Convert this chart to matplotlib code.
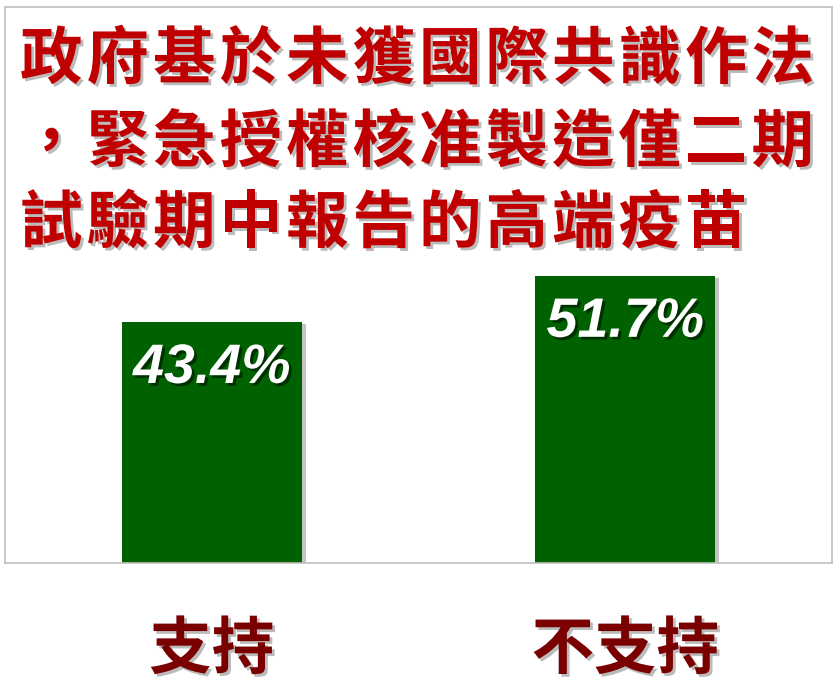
import matplotlib
matplotlib.use("Agg")
import matplotlib.pyplot as plt
import matplotlib.patheffects as pe

categories = ["支持", "不支持"]
values = [43.4, 51.7]
value_labels = ["43.4%", "51.7%"]
title_lines = ["政府基於未獲國際共識作法", "，緊急授權核准製造僅二期", "試驗期中報告的高端疫苗"]

plt.rcParams['font.family'] = ['Noto Sans CJK TC', 'DejaVu Sans']

fig = plt.figure(figsize=(8.4, 6.85), dpi=100)
ax = fig.add_axes([5/840, 1-563/685, 827/840, 556/685])
ax.set_xlim(-0.5, 1.5)
ax.set_ylim(0, 100)
x = list(range(len(categories)))
bars = ax.bar(x, values, width=0.435, color="#006100", zorder=2)
for b in bars:
    b.set_path_effects([pe.SimplePatchShadow(offset=(3, -2), shadow_rgbFace="#888888", alpha=0.5), pe.Normal()])
ax.set_xticks([])
ax.set_yticks([])
for s in ax.spines.values():
    s.set_color("#BFBFBF")
    s.set_linewidth(1.2)

for xi, v, lab in zip(x, values, value_labels):
    ax.text(xi, v - 8.5, lab, ha="center", va="center", color="white",
            fontsize=40, fontweight="bold", style="italic",
            family=["Liberation Sans Narrow", "Liberation Sans", "DejaVu Sans"],
            path_effects=[pe.withSimplePatchShadow(offset=(2, -2), shadow_rgbFace="black", alpha=0.5)],
            zorder=3)

shadow = [pe.withSimplePatchShadow(offset=(2, -2), shadow_rgbFace="#555555", alpha=0.4)]
title_y = [60, 143, 224]
pitch = 66.5
for line, yy in zip(title_lines, title_y):
    for i, ch in enumerate(line):
        xc = 18 + pitch * (i + 0.5)
        fig.text(xc/840, 1-yy/685, ch, ha="center", va="center", color="#C00000",
                 fontsize=45, fontweight="bold", path_effects=shadow)

for xi, c in zip(x, categories):
    xf = (5 + (xi + 0.5) * 413.5) / 840
    fig.text(xf, 1-650/685, c, ha="center", va="center", color="#7A0000",
             fontsize=45, fontweight="bold", path_effects=shadow)

fig.savefig("out.png", dpi=100, facecolor="white")
